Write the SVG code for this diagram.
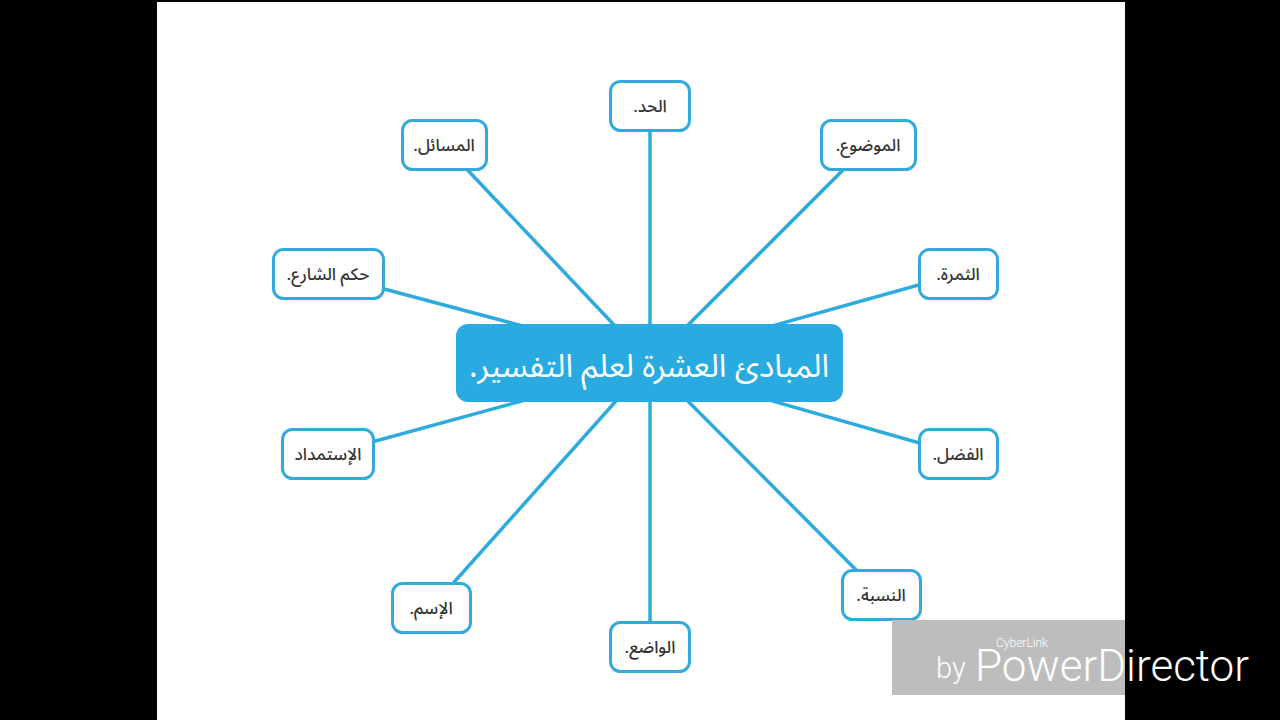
<svg xmlns="http://www.w3.org/2000/svg" width="1280" height="720" viewBox="0 0 1280 720">
<style>
.bg{fill:#000}
.page{fill:#fff}
.link{stroke:#2eaadc;stroke-width:3.5;fill:none}
.box{fill:#fff;stroke:#33aadb;stroke-width:3}
.lbl{font-family:"Noto Sans Arabic","Noto Sans","DejaVu Sans",sans-serif;font-size:17px;font-weight:500;fill:#333;text-anchor:middle;direction:rtl}
.main{fill:#29abe2}
.mainlbl{font-family:"Noto Sans Arabic","Noto Sans","DejaVu Sans",sans-serif;font-size:32px;fill:#fff;text-anchor:middle;direction:rtl}
.wm{font-family:Roboto,"Open Sans",sans-serif;font-weight:300;fill:#fff}
</style>
<rect class="bg" x="0" y="0" width="1280" height="720"/>
<rect class="page" x="157" y="2" width="968" height="718"/>
<g id="connectors">
<line class="link" x1="650" y1="106" x2="650" y2="363"/>
<line class="link" x1="444" y1="145" x2="650" y2="363"/>
<line class="link" x1="868" y1="145" x2="650" y2="363"/>
<line class="link" x1="328" y1="274" x2="650" y2="360"/>
<line class="link" x1="958" y1="274" x2="650" y2="360"/>
<line class="link" x1="328" y1="454" x2="650" y2="366"/>
<line class="link" x1="958" y1="454" x2="650" y2="366"/>
<line class="link" x1="431" y1="608" x2="650" y2="363"/>
<line class="link" x1="650" y1="647" x2="650" y2="363"/>
<line class="link" x1="881" y1="595" x2="650" y2="363"/>
</g>
<g id="center">
<rect class="main" x="456" y="324" width="387" height="78" rx="12"/>
<text class="mainlbl" x="649" y="377">المبادئ العشرة لعلم التفسير.</text>
</g>
<g id="n-hadd"><rect class="box" x="610.5" y="81.5" width="79" height="49" rx="10"/><text class="lbl" x="650" y="112">الحد.</text></g>
<g id="n-masail"><rect class="box" x="402.5" y="120.5" width="84" height="49" rx="10"/><text class="lbl" x="444" y="151">المسائل.</text></g>
<g id="n-mawdu"><rect class="box" x="821.5" y="120.5" width="94" height="49" rx="10"/><text class="lbl" x="868" y="151">الموضوع.</text></g>
<g id="n-hukm"><rect class="box" x="273.5" y="249.5" width="110" height="49" rx="10"/><text class="lbl" x="328" y="280">حكم الشارع.</text></g>
<g id="n-thamara"><rect class="box" x="919.5" y="249.5" width="78" height="49" rx="10"/><text class="lbl" x="958" y="280">الثمرة.</text></g>
<g id="n-istimdad"><rect class="box" x="282.5" y="429.5" width="91" height="49" rx="10"/><text class="lbl" x="328" y="460">الإستمداد</text></g>
<g id="n-fadl"><rect class="box" x="919.5" y="429.5" width="78" height="49" rx="10"/><text class="lbl" x="958" y="460">الفضل.</text></g>
<g id="n-ism"><rect class="box" x="392.5" y="583.5" width="78" height="49" rx="10"/><text class="lbl" x="431" y="614">الإسم.</text></g>
<g id="n-wadi"><rect class="box" x="610.5" y="622.5" width="79" height="49" rx="10"/><text class="lbl" x="650" y="653">الواضع.</text></g>
<g id="n-nisba"><rect class="box" x="842.5" y="570.5" width="78" height="49" rx="10"/><text class="lbl" x="881" y="601">النسبة.</text></g>
<g id="watermark">
<rect x="892" y="620" width="233" height="75" fill="#bdbdbd"/>
<text class="wm" x="936" y="678" font-size="29">by</text>
<text class="wm" x="975" y="681" font-size="44">PowerDirector</text>
<text class="wm" x="996" y="647" font-size="12" font-weight="400">CyberLink</text>
</g>
</svg>
